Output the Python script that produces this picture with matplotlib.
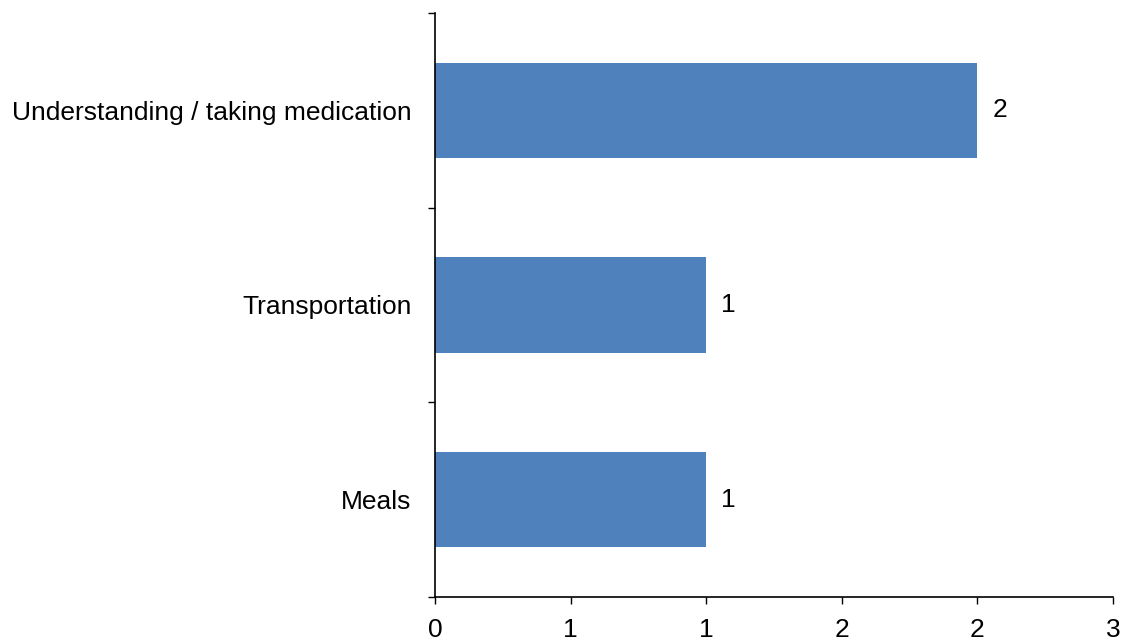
import matplotlib
matplotlib.use("Agg")
import matplotlib.pyplot as plt
import numpy as np

plt.rcParams['font.family'] = ['Liberation Sans', 'DejaVu Sans']

categories = ["Meals", "Transportation", "Understanding / taking medication"]
values = [1, 1, 2]
x_ticks = [0, 0.5, 1, 1.5, 2, 2.5]
x_tick_labels = ["0", "1", "1", "2", "2", "3"]

fig = plt.figure(figsize=(11.29, 6.42), dpi=100)
ax = fig.add_axes([0.3853, 0.0701, 0.6005, 0.9097])

y = np.arange(len(categories))
ax.barh(y, values, height=0.49, color="#4F81BD")

for yi, v in zip(y, values):
    ax.text(v + 0.055, yi, str(v), va="center", ha="left", fontsize=19)

ax.set_xlim(0, 2.5)
ax.set_ylim(-0.5, len(categories) - 0.5)
ax.set_xticks(x_ticks)
ax.set_xticklabels(x_tick_labels, fontsize=19)
ax.set_yticks(y)
ax.set_yticklabels(categories, fontsize=19)
ax.set_yticks(np.arange(-0.5, len(categories)), minor=True)
ax.tick_params(axis="y", which="major", length=0, pad=17)
ax.tick_params(axis="y", which="minor", length=5, width=1, direction="out")
ax.tick_params(axis="x", length=5, width=1, direction="out", pad=10)

for s in ["top", "right"]:
    ax.spines[s].set_visible(False)
for s in ["left", "bottom"]:
    ax.spines[s].set_linewidth(1.2)

fig.savefig("out.png", dpi=100)
